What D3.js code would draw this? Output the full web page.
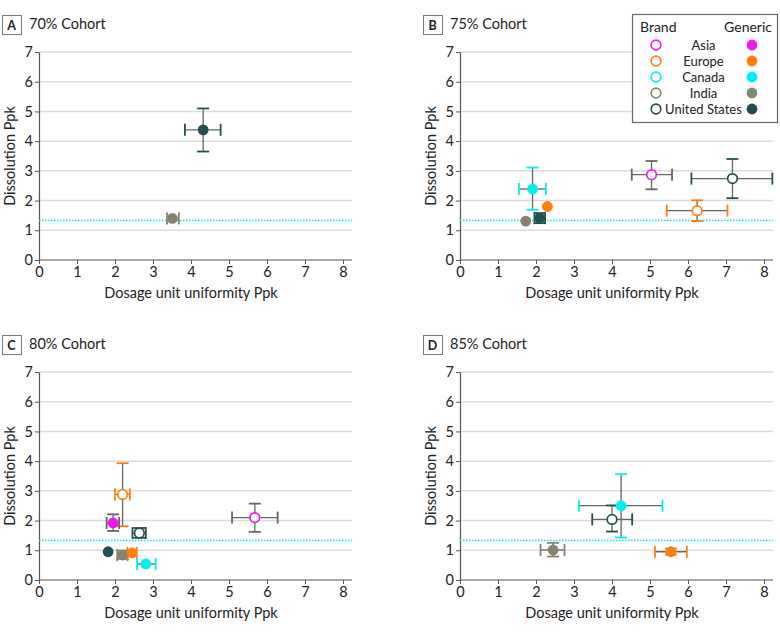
<!DOCTYPE html>
<html><head><meta charset="utf-8">
<script src="https://cdn.jsdelivr.net/npm/d3@7"></script>
<style>body{margin:0;background:#fff}svg{display:block}text{font-family:Lato,"Open Sans",sans-serif;fill:#222}</style>
</head><body><svg id="c" width="780" height="634"></svg>
<script>
const regions = ["Asia","Europe","Canada","India","United States"];
const regionColors = ["#ee1aee","#ff7f0e","#00f0f0","#878370","#234f4f"];
const capColors = ["#666666","#ff7f0e","#00f0f0","#878370","#234f4f"];
const xTicks = [0,1,2,3,4,5,6,7,8];
const yTicks = [0,1,2,3,4,5,6,7];
const refLine = 1.33;
// [region, type, x, y, xlo, xhi, ylo, yhi]
const cohort70 = [
  ["United States","Generic",4.32,4.38,3.84,4.78,3.65,5.10],
  ["India","Generic",3.51,1.40,3.37,3.68,1.40,1.40]
];
const cohort75 = [
  ["Asia","Brand",5.04,2.87,4.52,5.58,2.38,3.33],
  ["United States","Brand",7.17,2.74,6.09,8.22,2.08,3.40],
  ["Europe","Brand",6.24,1.66,5.44,7.04,1.31,2.01],
  ["Canada","Generic",1.91,2.39,1.55,2.26,1.69,3.11],
  ["Europe","Generic",2.30,1.80,null,null,null,null],
  ["India","Generic",1.73,1.31,null,null,null,null],
  ["United States","Generic",2.10,1.41,1.96,2.24,1.24,1.58]
];
const cohort80 = [
  ["Europe","Brand",2.20,2.88,2.00,2.39,1.81,3.93],
  ["Asia","Brand",5.68,2.10,5.08,6.28,1.62,2.57],
  ["United States","Brand",2.64,1.58,2.46,2.81,1.42,1.75],
  ["Asia","Generic",1.95,1.92,1.78,2.11,1.65,2.21],
  ["United States","Generic",1.82,0.95,null,null,null,null],
  ["India","Generic",2.20,0.84,2.06,2.33,0.71,0.99],
  ["Europe","Generic",2.45,0.91,2.33,2.57,0.91,0.91],
  ["Canada","Generic",2.81,0.54,2.58,3.07,0.54,0.54]
];
const cohort85 = [
  ["Canada","Generic",4.24,2.50,3.13,5.33,1.43,3.56],
  ["United States","Brand",4.00,2.04,3.48,4.53,1.63,2.51],
  ["India","Generic",2.45,1.01,2.12,2.75,0.79,1.25],
  ["Europe","Generic",5.55,0.95,5.13,5.97,0.85,1.06]
];
const panels = [
  {letter:"A", title:"70% Cohort", data:cohort70, x0:39, y0:52},
  {letter:"B", title:"75% Cohort", data:cohort75, x0:460, y0:52},
  {letter:"C", title:"80% Cohort", data:cohort80, x0:39, y0:372},
  {letter:"D", title:"85% Cohort", data:cohort85, x0:460, y0:372}
];
const svg = d3.select("#c");
const color = d3.scaleOrdinal(regions, regionColors);
const capColor = d3.scaleOrdinal(regions, capColors);
const W = 313, H = 208;

panels.forEach(p => {
  const g = svg.append("g").attr("transform",`translate(${p.x0},${p.y0})`);
  const x = d3.scaleLinear().domain([0,8]).range([0,304]);
  const y = d3.scaleLinear().domain([0,7]).range([H,0]);
  // panel label
  svg.append("rect").attr("x",p.x0-37+0.5).attr("y",p.y0-37+0.5).attr("width",19).attr("height",19)
    .attr("fill","#fff").attr("stroke","#777").attr("stroke-width",1);
  svg.append("text").attr("x",p.x0-27.5).attr("y",p.y0-22.5).attr("text-anchor","middle")
    .attr("font-size",12.5).attr("font-weight","bold").text(p.letter);
  svg.append("text").attr("x",p.x0-10).attr("y",p.y0-23).attr("font-size",14.5).text(p.title);
  // grid
  g.selectAll(".grid").data(yTicks.filter(t=>t>0)).join("line")
    .attr("x1",0).attr("x2",W).attr("y1",d=>y(d)).attr("y2",d=>y(d))
    .attr("stroke","#dcdcdc").attr("stroke-width",1.5);
  // axes
  const ya = g.append("g").call(d3.axisLeft(y).tickValues(yTicks).tickFormat(d3.format("d")).tickSize(4).tickSizeOuter(0));
  const xa = g.append("g").attr("transform",`translate(0,${H})`)
    .call(d3.axisBottom(x).tickValues(xTicks).tickFormat(d3.format("d")).tickSize(4).tickSizeOuter(0));
  [ya,xa].forEach(a=>{
    a.select(".domain").attr("stroke","#555").attr("stroke-width",1.2);
    a.selectAll(".tick line").attr("stroke","#555");
    a.selectAll(".tick text").attr("font-size",14.5).attr("fill","#222").attr("font-family","Lato,sans-serif");
  });
  xa.select(".domain").attr("d",`M0,0H${W}`);
  ya.selectAll(".tick text").attr("x",-6);
  xa.selectAll(".tick text").attr("y",7);
  g.append("text").attr("x",x(4)).attr("y",H+38).attr("text-anchor","middle").attr("font-size",14.5)
    .text("Dosage unit uniformity Ppk");
  g.append("text").attr("transform",`translate(-24,${H/2}) rotate(-90)`).attr("text-anchor","middle")
    .attr("font-size",14.5).text("Dissolution Ppk");
  // reference line
  g.append("line").attr("x1",0).attr("x2",W).attr("y1",y(refLine)).attr("y2",y(refLine))
    .attr("stroke","#00e6e6").attr("stroke-width",1.4).attr("stroke-dasharray","1.5,1.5");
  // error bars
  const cap = 6;
  p.data.forEach(d => {
    const [reg,type,vx,vy,xlo,xhi,ylo,yhi] = d;
    if (xlo===null) return;
    const eg = g.append("g");
    if (xhi>xlo) {
      eg.append("line").attr("x1",x(xlo)).attr("x2",x(xhi)).attr("y1",y(vy)).attr("y2",y(vy)).attr("stroke","#666").attr("stroke-width",1.3);
      [xlo,xhi].forEach(v=>eg.append("line").attr("x1",x(v)).attr("x2",x(v)).attr("y1",y(vy)-cap).attr("y2",y(vy)+cap)
        .attr("stroke",capColor(reg)).attr("stroke-width",1.8));
    }
    if (yhi>ylo) {
      eg.append("line").attr("x1",x(vx)).attr("x2",x(vx)).attr("y1",y(ylo)).attr("y2",y(yhi)).attr("stroke","#666").attr("stroke-width",1.3);
      [ylo,yhi].forEach(v=>eg.append("line").attr("x1",x(vx)-cap).attr("x2",x(vx)+cap).attr("y1",y(v)).attr("y2",y(v))
        .attr("stroke",capColor(reg)).attr("stroke-width",1.8));
    }
  });
  // points
  g.selectAll(".pt").data(p.data).join("circle")
    .attr("cx",d=>x(d[2])).attr("cy",d=>y(d[3]))
    .attr("r",d=>d[1]==="Brand"?4.8:5.4)
    .attr("fill",d=>d[1]==="Brand"?"#fff":color(d[0]))
    .attr("stroke",d=>d[1]==="Brand"?color(d[0]):"none")
    .attr("stroke-width",1.7);
});

// legend
const lg = svg.append("g");
lg.append("rect").attr("x",632.5).attr("y",14.5).attr("width",145).attr("height",108)
  .attr("fill","#fff").attr("stroke","#666").attr("stroke-width",1.2);
lg.append("text").attr("x",640).attr("y",32).attr("font-size",14).text("Brand");
lg.append("text").attr("x",772).attr("y",32).attr("font-size",14).attr("text-anchor","end").text("Generic");
const ly = d3.scalePoint().domain(regions).range([45,109]);
regions.forEach(r=>{
  lg.append("circle").attr("cx",656).attr("cy",ly(r)).attr("r",4.8).attr("fill","#fff")
    .attr("stroke",color(r)).attr("stroke-width",1.7);
  lg.append("circle").attr("cx",752).attr("cy",ly(r)).attr("r",5.4).attr("fill",color(r));
  lg.append("text").attr("x",703.5).attr("y",ly(r)+5).attr("text-anchor","middle").attr("font-size",13).text(r);
});
</script></body></html>
